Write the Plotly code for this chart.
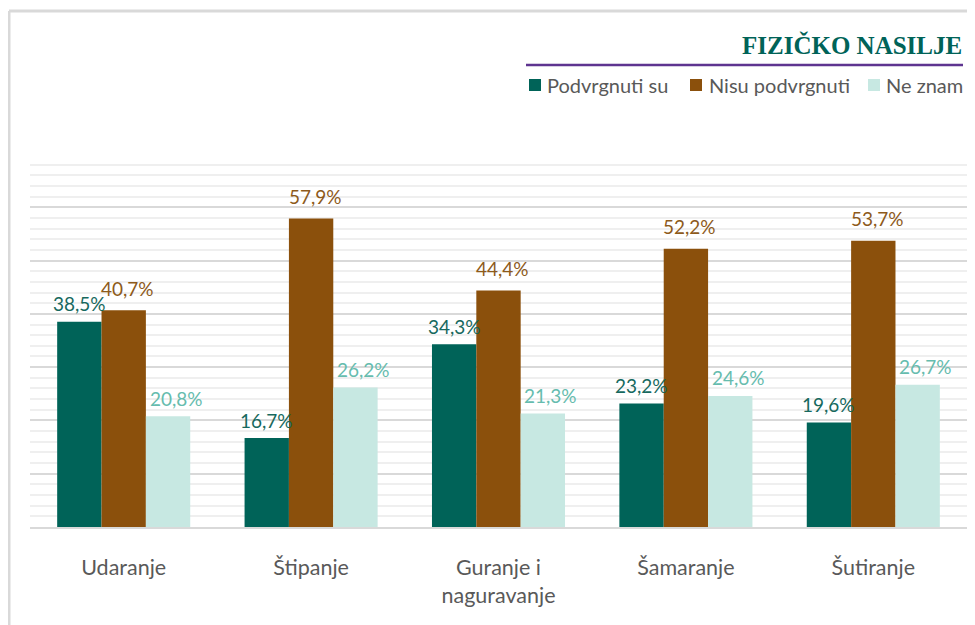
import plotly.graph_objects as go

categories = ["Udaranje", "Štipanje", "Guranje i<br>naguravanje", "Šamaranje", "Šutiranje"]
series_names = ["Podvrgnuti su", "Nisu podvrgnuti", "Ne znam"]
podvrgnuti = [38.5, 16.7, 34.3, 23.2, 19.6]
nisu_podvrgnuti = [40.7, 57.9, 44.4, 52.2, 53.7]
ne_znam = [20.8, 26.2, 21.3, 24.6, 26.7]
title_text = "FIZIČKO NASILJE"

bar_colors = ["#006358", "#8B500C", "#C7E8E2"]
label_colors = ["#17695E", "#8D5A1B", "#66BCAE"]
values = [podvrgnuti, nisu_podvrgnuti, ne_znam]

FONT = "Lato, 'Open Sans', sans-serif"

OFF = 8  # page body margin
W, H = 975 - OFF, 625 - OFF
L, R, T, B = 30 - OFF, 8, 154 - OFF, 98
pw, ph = W - L - R, H - T - B
BARGAP = 0.29

def px(x):
    return (x - OFF - L) / pw

def py(y):
    return (H - B - (y - OFF)) / ph

fig = go.Figure()
for name, vals, bc in zip(series_names, values, bar_colors):
    fig.add_trace(go.Bar(
        x=categories, y=vals, name=name,
        marker=dict(color=bc, line=dict(width=0)),
        showlegend=False,
    ))

# data labels (placed above each bar)
cat_w = pw / len(categories)
bar_w = cat_w * (1 - BARGAP) / len(values)
label_dx = [0, 4, 8]
label_dy = [18, 22, 18]
annotations = []
for i, (vals, lc) in enumerate(zip(values, label_colors)):
    for cat, v in zip(categories, vals):
        annotations.append(dict(
            x=cat, y=v, xref="x", yref="y", showarrow=False,
            text=f"{v:.1f}%".replace(".", ","),
            xshift=(i - 1) * bar_w + label_dx[i], yshift=label_dy[i],
            xanchor="center", yanchor="middle",
            font=dict(family=FONT, size=19, color=lc),
        ))

# title
annotations.append(dict(text=f"<b>{title_text}</b>", xref="paper", yref="paper",
                        x=px(964), y=py(45), xanchor="right", yanchor="middle", showarrow=False,
                        font=dict(family="'Liberation Serif', serif", size=25, color="#006358")))

shapes = [
    dict(type="line", xref="paper", yref="paper", x0=px(9), x1=px(975), y0=py(11), y1=py(11),
         line=dict(color="#D9D9D9", width=3)),
    dict(type="line", xref="paper", yref="paper", x0=px(9), x1=px(9), y0=py(11), y1=py(625),
         line=dict(color="#D9D9D9", width=3)),
    dict(type="line", xref="paper", yref="paper", x0=px(526), x1=px(963), y0=py(65), y1=py(65),
         line=dict(color="#5E3490", width=2.5)),
]

# legend (manual, to match spacing)
legend_sq_x = [529, 690, 868]
legend_txt_x = [547, 709, 886]
for name, bc, sx, tx in zip(series_names, bar_colors, legend_sq_x, legend_txt_x):
    shapes.append(dict(type="rect", xref="paper", yref="paper",
                       x0=px(sx), x1=px(sx + 12), y0=py(79), y1=py(91),
                       fillcolor=bc, line=dict(width=0)))
    annotations.append(dict(text=name, xref="paper", yref="paper", x=px(tx - 2), y=py(85),
                            xanchor="left", yanchor="middle", showarrow=False,
                            font=dict(family=FONT, size=20, color="#595959")))

fig.update_layout(
    width=W, height=H,
    margin=dict(l=L, r=R, t=T, b=B),
    paper_bgcolor="white", plot_bgcolor="white",
    barmode="group", bargap=BARGAP, bargroupgap=0,
    font=dict(family=FONT, color="#595959"),
    showlegend=False,
    shapes=shapes,
    annotations=annotations,
)
fig.update_xaxes(showline=True, linecolor="#D9D9D9", linewidth=2,
                 ticks="outside", ticklen=20, tickcolor="rgba(0,0,0,0)",
                 tickfont=dict(family=FONT, size=21.5, color="#595959"), fixedrange=True)
fig.update_yaxes(range=[0, 70], dtick=10, showgrid=True, gridcolor="#D9D9D9", gridwidth=1.5,
                 minor=dict(dtick=2, showgrid=True, gridcolor="#EFEFEF", gridwidth=1.5),
                 showticklabels=False, zeroline=False, showline=False, fixedrange=True)

fig.write_html("out.html")
